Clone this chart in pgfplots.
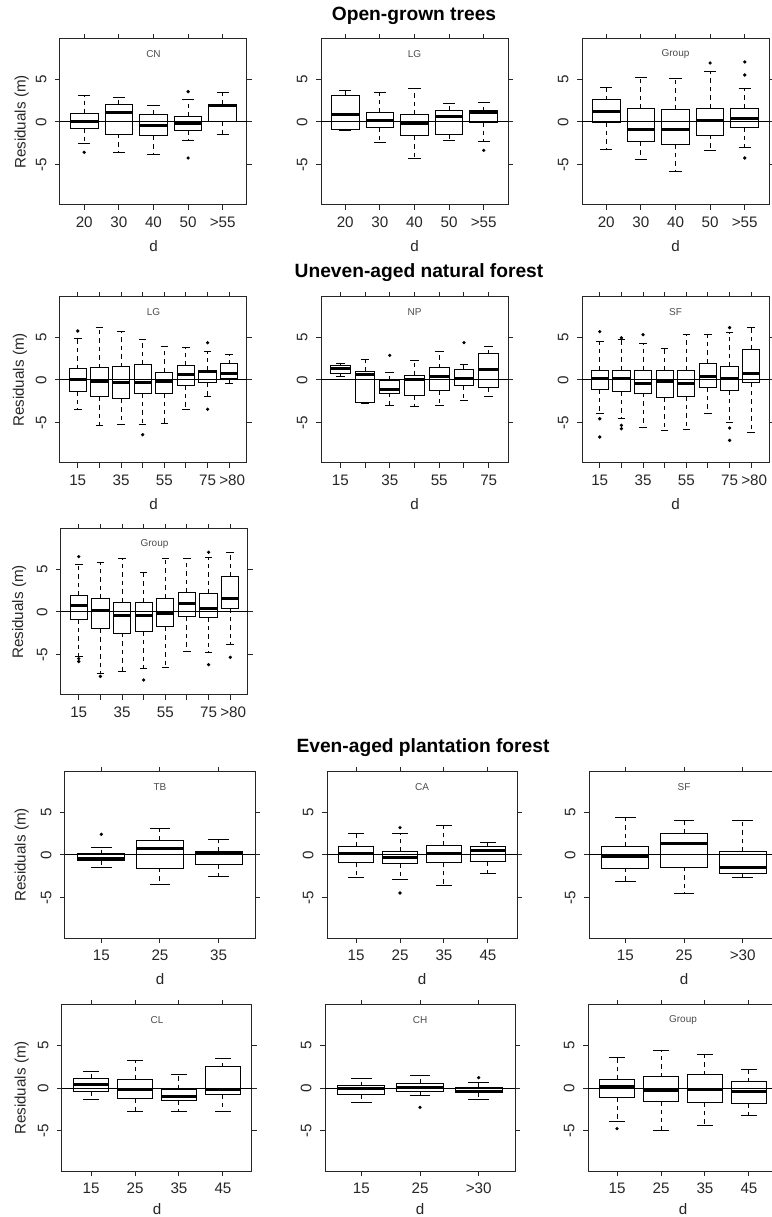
\documentclass[border=0pt]{standalone}
\usepackage{fontspec}
\setmainfont{Liberation Sans}
\usepackage{pgfplots}
\pgfplotsset{compat=1.18}
\usepgfplotslibrary{statistics}

\newcommand\fs{\fontsize{7.6}{8.5}\selectfont}
\pgfplotsset{
  panel/.style={
    scale only axis, height=83pt,
    ymin=-9.8, ymax=9.8,
    ytick={-5,0,5}, yticklabels={-5,0,5},
    tick align=outside, major tick length=2.5pt,
    axis line style={black!85, line width=0.5pt},
    tick style={black!85, line width=0.5pt},
    tick label style={font=\fs, text=black!85},
    yticklabel style={rotate=90, anchor=south, inner xsep=0pt, inner ysep=4pt},
    xticklabel style={anchor=north, inner xsep=0pt, inner ysep=3pt, text height=5.5pt, text depth=0pt},
    xlabel={d},
    xlabel style={at={(axis description cs:0.5,-0.25)}, anchor=center, font=\fs, text=black!85},
    ylabel style={anchor=center, font=\fs, text=black!85},
    clip=true,
  },
  rb/.style={
    black, line width=0.5pt,
    mark=*, mark size=0.55pt, mark options={solid, fill=black},
    boxplot/draw direction=y,
    boxplot/box extend=0.8,
    boxplot/whisker extend=0.35,
    boxplot/draw/box/.code={\draw[line width=0.5pt, solid] (boxplot box cs:\pgfplotsboxplotvalue{lower quartile},0) rectangle (boxplot box cs:\pgfplotsboxplotvalue{upper quartile},1);},
    boxplot/draw/median/.code={\draw[line width=1.5pt, solid] (boxplot box cs:\pgfplotsboxplotvalue{median},0) -- (boxplot box cs:\pgfplotsboxplotvalue{median},1);},
    boxplot/draw/lower whisker/.code={\draw[line width=0.5pt, dash pattern=on 2.2pt off 2pt] (boxplot box cs:\pgfplotsboxplotvalue{lower quartile},0.5) -- (boxplot box cs:\pgfplotsboxplotvalue{lower whisker},0.5); \draw[line width=0.5pt, solid] (boxplot whisker cs:\pgfplotsboxplotvalue{lower whisker},0) -- (boxplot whisker cs:\pgfplotsboxplotvalue{lower whisker},1);},
    boxplot/draw/upper whisker/.code={\draw[line width=0.5pt, dash pattern=on 2.2pt off 2pt] (boxplot box cs:\pgfplotsboxplotvalue{upper quartile},0.5) -- (boxplot box cs:\pgfplotsboxplotvalue{upper whisker},0.5); \draw[line width=0.5pt, solid] (boxplot whisker cs:\pgfplotsboxplotvalue{upper whisker},0) -- (boxplot whisker cs:\pgfplotsboxplotvalue{upper whisker},1);},
    boxplot/draw/average/.code={},
  },
}
% position, lower whisker, Q1, median, Q3, upper whisker, outliers
\newcommand\B[7]{\addplot[rb, boxplot prepared={draw position=#1, lower whisker=#2, lower quartile=#3, median=#4, upper quartile=#5, upper whisker=#6}] table[row sep=\\, y index=0] {v\\#7};}
\newcommand\Bn[6]{\addplot[rb, boxplot prepared={draw position=#1, lower whisker=#2, lower quartile=#3, median=#4, upper quartile=#5, upper whisker=#6}] coordinates {};}
\newcommand\zero{\addplot[black, line width=0.5pt, forget plot] coordinates {(-1,0) (10,0)};}
\newcommand\ptitle[1]{\node[font=\fontsize{5}{6}\selectfont, text=black!70] at (axis description cs:0.5,0.912) {#1};}

\begin{document}
\begin{tikzpicture}
\useasboundingbox (0,0) rectangle (386pt,608.5pt);

% ---------------- Row 1: Open-grown trees
\begin{axis}[panel, width=93.5pt, at={(30pt,589pt)}, anchor=north west,
  xmin=0.3, xmax=5.7, xtick={1,...,5}, xticklabels={20,30,40,50,{>55}},
  ylabel={Residuals (m)}, ylabel style={at={(axis description cs:-0.205,0.5)}}]
\B{1}{-2.56}{-0.75}{0.0}{1.0}{3.1}{-3.58\\}
\Bn{2}{-3.66}{-1.42}{1.14}{2.09}{2.87}
\Bn{3}{-3.78}{-1.65}{-0.4}{0.9}{2.0}
\B{4}{-2.24}{-0.98}{-0.12}{0.67}{2.6}{3.58\\ -4.25\\}
\Bn{5}{-1.46}{0.08}{2.0}{2.02}{3.43}
\zero
\ptitle{CN}
\end{axis}

\begin{axis}[panel, width=93.5pt, at={(160.5pt,589pt)}, anchor=north west,
  xmin=0.3, xmax=5.7, xtick={1,...,5}, xticklabels={20,30,40,50,{>55}}]
\Bn{1}{-1.0}{-0.9}{0.9}{3.1}{3.7}
\Bn{2}{-2.48}{-0.67}{0.12}{1.1}{3.46}
\Bn{3}{-4.33}{-1.65}{-0.2}{0.9}{4.0}
\Bn{4}{-2.24}{-1.46}{0.6}{1.38}{2.2}
\B{5}{-2.28}{-0.08}{1.14}{1.3}{2.36}{-3.35\\}
\zero
\ptitle{LG}
\end{axis}

\begin{axis}[panel, width=93.5pt, at={(291pt,589pt)}, anchor=north west,
  xmin=0.3, xmax=5.7, xtick={1,...,5}, xticklabels={20,30,40,50,{>55}}]
\Bn{1}{-3.23}{-0.08}{1.26}{2.6}{4.1}
\Bn{2}{-4.45}{-2.36}{-0.87}{1.57}{5.24}
\Bn{3}{-5.9}{-2.68}{-0.87}{1.46}{5.12}
\B{4}{-3.31}{-1.54}{0.16}{1.65}{6.02}{6.97\\}
\B{5}{-3.07}{-0.63}{0.39}{1.65}{3.9}{7.09\\ 5.55\\ -4.25\\}
\zero
\ptitle{Group}
\end{axis}

% ---------------- Row 2: Uneven-aged natural forest
\begin{axis}[panel, width=93.5pt, at={(30pt,460pt)}, anchor=north west,
  xmin=0.18, xmax=8.82, xtick={1,...,8}, xticklabels={15,,35,,55,,75,{\hspace*{3pt}>80}},
  ylabel={Residuals (m)}, ylabel style={at={(axis description cs:-0.214,0.5)}}]
\B{1}{-3.46}{-1.38}{0.0}{1.3}{4.88}{5.79\\}
\Bn{2}{-5.39}{-2.0}{-0.16}{1.42}{6.14}
\Bn{3}{-5.24}{-2.24}{-0.24}{1.54}{5.67}
\B{4}{-5.24}{-1.61}{-0.35}{1.81}{4.76}{-6.46\\}
\Bn{5}{-5.12}{-1.57}{-0.2}{0.94}{3.9}
\Bn{6}{-3.46}{-0.67}{0.67}{1.69}{3.78}
\B{7}{-1.93}{-0.35}{1.02}{1.14}{3.31}{4.4\\ -3.46\\}
\Bn{8}{-0.39}{0.2}{0.79}{1.89}{3.0}
\zero
\ptitle{LG}
\end{axis}

\begin{axis}[panel, width=93.5pt, at={(160.5pt,460pt)}, anchor=north west,
  xmin=0.22, xmax=7.78, xtick={1,...,7}, xticklabels={15,,35,,55,,75}]
\Bn{1}{0.47}{0.79}{1.3}{1.77}{1.89}
\Bn{2}{-2.76}{-2.68}{0.59}{1.06}{2.44}
\B{3}{-3.03}{-1.54}{-1.1}{-0.08}{0.94}{2.91\\}
\Bn{4}{-3.15}{-1.81}{0.0}{0.55}{2.32}
\Bn{5}{-3.03}{-1.22}{0.47}{1.42}{3.31}
\B{6}{-2.44}{-0.67}{0.16}{1.22}{1.81}{4.41\\}
\Bn{7}{-1.89}{-0.9}{1.22}{3.07}{3.9}
\zero
\ptitle{NP}
\end{axis}

\begin{axis}[panel, width=93.5pt, at={(291pt,460pt)}, anchor=north west,
  xmin=0.18, xmax=8.82, xtick={1,...,8}, xticklabels={15,,35,,55,,75,{\hspace*{3pt}>80}}]
\B{1}{-3.98}{-1.14}{0.16}{1.18}{4.57}{5.71\\ -4.57\\ -6.73\\}
\B{2}{-4.57}{-1.34}{0.12}{1.18}{4.76}{4.98\\ -5.35\\ -5.75\\}
\B{3}{-5.59}{-1.54}{-0.43}{1.18}{4.25}{5.35\\}
\Bn{4}{-5.98}{-2.09}{-0.12}{1.1}{3.66}
\Bn{5}{-5.87}{-1.97}{-0.43}{1.18}{5.43}
\Bn{6}{-3.98}{-0.9}{0.47}{2.0}{5.43}
\B{7}{-4.96}{-1.22}{0.12}{1.57}{5.55}{6.18\\ -5.67\\ -7.13\\}
\Bn{8}{-6.22}{-0.31}{0.79}{3.62}{6.14}
\zero
\ptitle{SF}
\end{axis}

% ---------------- Row 3: Uneven-aged group
\begin{axis}[panel, width=93.5pt, at={(30.5pt,344pt)}, anchor=north west,
  xmin=0.18, xmax=8.82, xtick={1,...,8}, xticklabels={15,,35,,55,,75,{\hspace*{3pt}>80}},
  xlabel={},
  ylabel={Residuals (m)}, ylabel style={at={(axis description cs:-0.223,0.5)}}]
\B{1}{-5.2}{-0.9}{0.71}{1.97}{5.55}{6.54\\ -5.5\\ -5.85\\}
\B{2}{-7.24}{-2.0}{0.12}{1.57}{5.9}{-7.6\\}
\Bn{3}{-7.0}{-2.48}{-0.47}{1.18}{6.34}
\B{4}{-6.69}{-2.28}{-0.47}{1.1}{4.72}{-8.03\\}
\Bn{5}{-6.61}{-1.77}{-0.2}{1.65}{6.34}
\Bn{6}{-4.61}{-0.59}{1.02}{2.32}{6.34}
\B{7}{-4.8}{-0.67}{0.43}{2.2}{6.42}{7.05\\ -6.22\\}
\B{8}{-3.82}{0.39}{1.61}{4.21}{7.05}{-5.35\\}
\zero
\ptitle{Group}
\end{axis}

% ---------------- Row 4: Even-aged plantation forest
\begin{axis}[panel, width=95pt, at={(32.5pt,222.5pt)}, anchor=north west,
  xmin=0.38, xmax=3.62, xtick={1,2,3}, xticklabels={15,25,35},
  ylabel={Residuals (m)}, ylabel style={at={(axis description cs:-0.228,0.5)}}]
\B{1}{-1.46}{-0.67}{-0.43}{0.12}{0.87}{2.44\\}
\Bn{2}{-3.43}{-1.54}{0.71}{1.77}{3.11}
\Bn{3}{-2.56}{-1.1}{0.22}{0.39}{1.81}
\zero
\ptitle{TB}
\end{axis}

\begin{axis}[panel, width=95pt, at={(163.5pt,222.5pt)}, anchor=north west,
  xmin=0.34, xmax=4.66, xtick={1,...,4}, xticklabels={15,25,35,45}]
\Bn{1}{-2.64}{-0.87}{0.2}{0.98}{2.52}
\B{2}{-2.91}{-0.98}{-0.28}{0.39}{2.52}{3.23\\ -4.49\\}
\Bn{3}{-3.58}{-0.87}{0.12}{1.1}{3.43}
\Bn{4}{-2.24}{-0.79}{0.59}{0.98}{1.46}
\zero
\ptitle{CA}
\end{axis}

\begin{axis}[panel, width=95pt, at={(294.5pt,222.5pt)}, anchor=north west,
  xmin=0.38, xmax=3.62, xtick={1,2,3}, xticklabels={15,25,{>30}}]
\Bn{1}{-3.15}{-1.54}{-0.12}{0.98}{4.41}
\Bn{2}{-4.57}{-1.42}{1.34}{2.52}{4.13}
\Bn{3}{-2.64}{-2.13}{-1.42}{0.39}{4.06}
\zero
\ptitle{SF}
\end{axis}

% ---------------- Row 5
\begin{axis}[panel, width=95pt, at={(31pt,106pt)}, anchor=north west,
  xmin=0.34, xmax=4.66, xtick={1,...,4}, xticklabels={15,25,35,45},
  xlabel style={at={(axis description cs:0.5,-0.232)}},
  ylabel={Residuals (m)}, ylabel style={at={(axis description cs:-0.212,0.5)}}]
\Bn{1}{-1.3}{-0.39}{0.47}{1.18}{1.97}
\Bn{2}{-2.76}{-1.26}{-0.16}{0.98}{3.19}
\Bn{3}{-2.76}{-1.5}{-1.06}{-0.12}{1.57}
\Bn{4}{-2.76}{-0.79}{-0.16}{2.48}{3.54}
\zero
\ptitle{CL}
\end{axis}

\begin{axis}[panel, width=95pt, at={(162.5pt,106pt)}, anchor=north west,
  xmin=0.38, xmax=3.62, xtick={1,2,3}, xticklabels={15,25,{>30}},
  xlabel style={at={(axis description cs:0.5,-0.232)}}]
\Bn{1}{-1.69}{-0.79}{-0.04}{0.24}{1.18}
\B{2}{-0.83}{-0.39}{0.08}{0.59}{1.46}{-2.28\\}
\B{3}{-1.38}{-0.59}{-0.39}{0.04}{0.63}{1.22\\}
\zero
\ptitle{CH}
\end{axis}

\begin{axis}[panel, width=95pt, at={(294pt,106pt)}, anchor=north west,
  xmin=0.34, xmax=4.66, xtick={1,...,4}, xticklabels={15,25,35,45},
  xlabel style={at={(axis description cs:0.5,-0.232)}}]
\B{1}{-3.9}{-1.14}{0.16}{0.98}{3.66}{-4.8\\}
\Bn{2}{-5.04}{-1.57}{-0.35}{1.3}{4.41}
\Bn{3}{-4.41}{-1.69}{-0.16}{1.54}{3.98}
\Bn{4}{-3.27}{-1.81}{-0.47}{0.71}{2.17}
\zero
\ptitle{Group}
\end{axis}

% ---------------- Section titles
\node[font=\bfseries\fontsize{9.6}{11}\selectfont, anchor=base] at (207pt,598pt) {Open-grown trees};
\node[font=\bfseries\fontsize{9.6}{11}\selectfont, anchor=base] at (209.5pt,469.5pt) {Uneven-aged natural forest};
\node[font=\bfseries\fontsize{9.6}{11}\selectfont, anchor=base] at (211.5pt,232pt) {Even-aged plantation forest};
\end{tikzpicture}
\end{document}
